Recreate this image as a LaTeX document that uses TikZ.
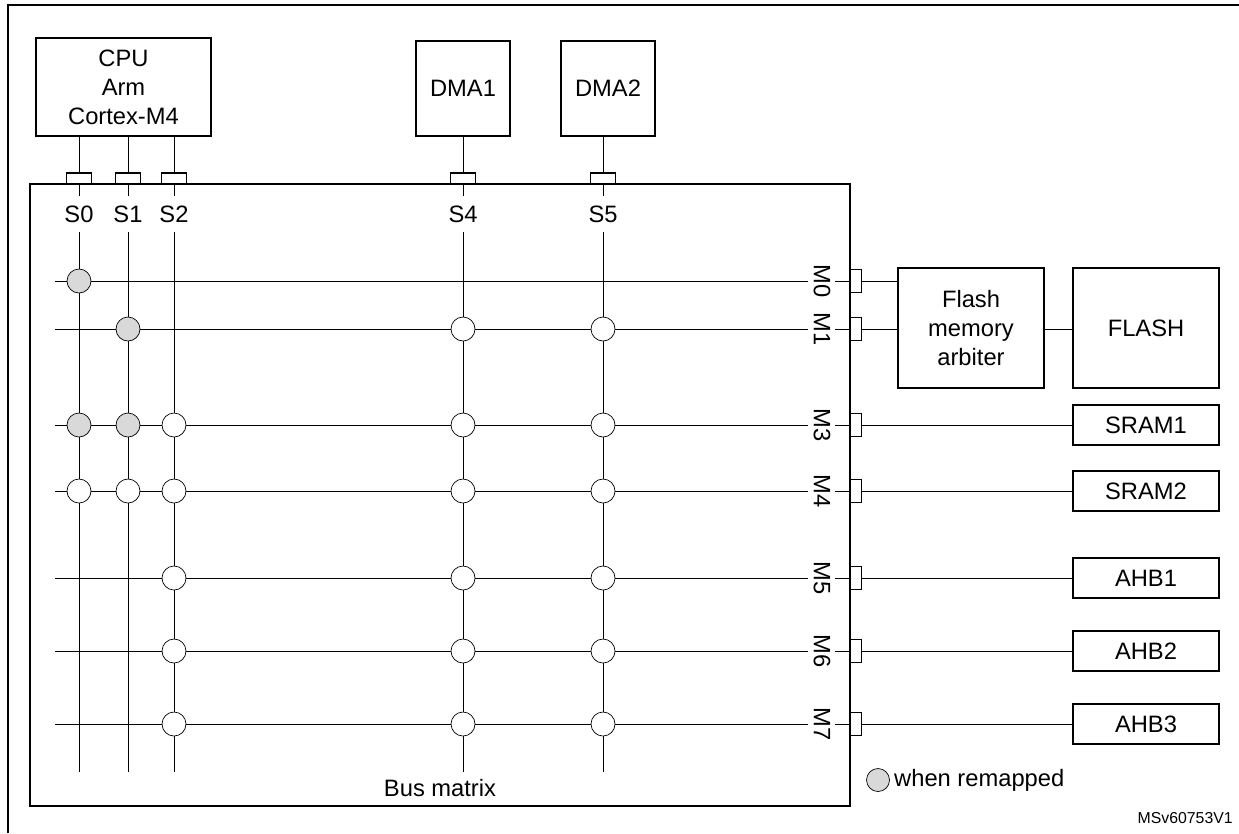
\documentclass[tikz,border=0pt]{standalone}
\usepackage{fontspec}
\setmainfont{Liberation Sans}
\usetikzlibrary{positioning,calc}
\tikzstyle{blk}=[draw, thick, inner sep=0pt, align=center, font=\fontsize{13.5}{16.5}\selectfont]
\tikzstyle{sport}=[draw, thick, minimum width=0.5cm, minimum height=0.22cm, inner sep=0pt]
\tikzstyle{mport}=[draw, thick, minimum width=0.22cm, minimum height=0.46cm, inner sep=0pt]
\tikzstyle{xbar}=[draw, circle, minimum size=0.48cm, inner sep=0pt, fill=white]
\tikzstyle{remap}=[xbar, fill=gray!30]
\tikzstyle{lbl}=[inner sep=0pt, font=\fontsize{13.5}{16.5}\selectfont]
\begin{document}
\begin{tikzpicture}[x=0.02cm, y=-0.02cm]
    \useasboundingbox (0,0) rectangle (1239,833);
    \draw [thick] (8,833) -- (8,5) -- (1239,5);
    % masters on top
    \node (cpu) [blk, minimum width=3.5cm, minimum height=1.96cm] at (123.5,87) {CPU\\Arm\\Cortex-M4};
    \node (dma1) [blk, minimum width=1.88cm, minimum height=1.9cm] at (463,88.5) {DMA1};
    \node (dma2) [blk, minimum width=1.88cm, minimum height=1.9cm] at (608,88.5) {DMA2};
    \node (bus) [draw, thick, minimum width=16.4cm, minimum height=12.44cm] at (440,495) {};
    \node (busl) [lbl] at (440,788) {Bus matrix};
    %
    \foreach \s/\x in {0/79,1/128,2/174,4/463,5/603} {
      \node (p\s) [sport] at (\x,178.5) {};
      \node (s\s) [lbl] at (\x,214) {S\s};
      \coordinate (t\s) at (\x,232);
      \coordinate (e\s) at (\x,772);
      \draw (p\s.south) -- (\x,196);
      \draw (t\s) -- (e\s);
    }
    \draw (cpu.south -| p0) -- (p0.north);
    \draw (cpu.south -| p1) -- (p1.north);
    \draw (cpu.south -| p2) -- (p2.north);
    \draw (dma1.south -| p4) -- (p4.north);
    \draw (dma2.south -| p5) -- (p5.north);
    %
    \foreach \m/\y in {0/281,1/329,3/425,4/491,5/578,6/651,7/724} {
      \coordinate (l\m) at (55,\y);
      \node (m\m) [lbl, rotate=-90] at (822,\y) {M\m};
      \node (q\m) [mport] at (856,\y) {};
      \draw (l\m) -- ($(m\m)+(-14,0)$);
      \draw ($(m\m)+(13,0)$) -- (q\m.west);
    }
    % crossbar switches
    \foreach \s/\m in {0/0,1/1,0/3,1/3} \node [remap] at (p\s |- l\m) {};
    \foreach \s/\m in {4/1,5/1,0/4,1/4} \node [xbar] at (p\s |- l\m) {};
    \foreach \m in {3,4,5,6,7} {
      \node [xbar] at (p2 |- l\m) {};
      \node [xbar] at (p4 |- l\m) {};
      \node [xbar] at (p5 |- l\m) {};
    }
    % slaves on the right
    \node (arb) [blk, minimum width=2.92cm, minimum height=2.4cm] at (971,328) {Flash\\memory\\arbiter};
    \node (flash) [blk, minimum width=2.92cm, minimum height=2.4cm] at (1146,328) {FLASH};
    \draw (q0.east) -- (q0 -| arb.west);
    \draw (q1.east) -- (q1 -| arb.west);
    \draw (arb.east |- q1) -- (flash.west |- q1);
    \foreach \n/\t/\m in {sram1/SRAM1/3,sram2/SRAM2/4,ahb1/AHB1/5,ahb2/AHB2/6,ahb3/AHB3/7} {
      \node (\n) [blk, minimum width=2.92cm, minimum height=0.8cm] at (1146,0 |- q\m) {\t};
      \draw (q\m.east) -- (\n.west);
    }
    %
    \node (leg) [remap, minimum size=0.46cm, thin] at (878,780) {};
    \node (legt) [lbl, right=0.08cm of leg] {when remapped};
    \node (ref) [lbl, anchor=east, font=\fontsize{9}{10}\selectfont] at (1233,818) {MSv60753V1};
\end{tikzpicture}
\end{document}
